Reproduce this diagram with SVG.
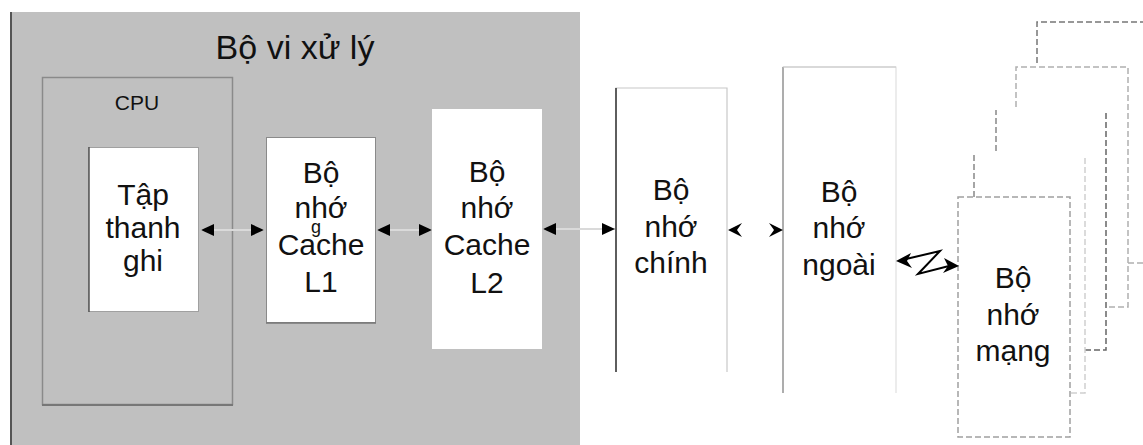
<svg xmlns="http://www.w3.org/2000/svg" width="1143" height="445" viewBox="0 0 1143 445">
  <style>
    .t { font-family: "Liberation Sans", Arial, sans-serif; fill: #111; text-anchor: middle; }
    .body { font-size: 30px; }
    .title { font-size: 34px; }
    .small { font-size: 21px; }
    .dash { fill: none; stroke-dasharray: 6 3; stroke-width: 1.5; }
    .link { stroke: #dadada; stroke-width: 2; fill: none; }
    .head { fill: #000; }
  </style>
  <defs>
    <marker id="tri" viewBox="0 0 13 12" refX="13" refY="6" markerWidth="13" markerHeight="12" markerUnits="userSpaceOnUse" orient="auto-start-reverse">
      <path d="M0,0 L13,6 L0,12 z" fill="#000"/>
    </marker>
  </defs>

  <rect width="1143" height="445" fill="#fff"/>

  <!-- processor area -->
  <g id="processor">
    <rect x="10" y="12" width="570" height="440" fill="#c0c0c0"/>
    <line x1="11" y1="12" x2="11" y2="445" stroke="#555" stroke-width="2"/>
    <text class="t title" x="295" y="59">Bộ vi xử lý</text>
  </g>

  <g id="cpu">
    <rect x="42.5" y="77.5" width="190" height="327" fill="none" stroke="#8a8a8a" stroke-width="1.5"/>
    <line x1="42" y1="405" x2="233" y2="405" stroke="#777" stroke-width="2"/>
    <text class="t small" x="137" y="110">CPU</text>
  </g>

  <g id="registers">
    <rect x="88.5" y="147.5" width="110" height="164" fill="#fff" stroke="#a0a0a0" stroke-width="1"/>
    <line x1="89" y1="147" x2="89" y2="312" stroke="#555" stroke-width="1.5"/>
    <text class="t body" x="143" y="205">Tập</text>
    <text class="t body" x="143" y="238">thanh</text>
    <text class="t body" x="143" y="271">ghi</text>
  </g>

  <g id="cache-l1">
    <rect x="266.5" y="137.5" width="109" height="185" fill="#fff" stroke="#8a8a8a" stroke-width="1"/>
    <line x1="266" y1="323" x2="376" y2="323" stroke="#777" stroke-width="1.5"/>
    <text class="t body" x="321" y="183">Bộ</text>
    <text class="t body" x="321" y="218">nhớ</text>
    <text class="t" x="316" y="233" font-size="18">g</text>
    <text class="t body" x="321" y="255">Cache</text>
    <text class="t body" x="321" y="292">L1</text>
  </g>

  <g id="cache-l2">
    <rect x="432" y="109" width="110" height="240" fill="#fff"/>
    <text class="t body" x="487" y="182">Bộ</text>
    <text class="t body" x="487" y="218">nhớ</text>
    <text class="t body" x="487" y="255">Cache</text>
    <text class="t body" x="487" y="293">L2</text>
  </g>

  <g id="main-memory">
    <path d="M616,372 V88 H727 V372" fill="none" stroke="#c8c8c8" stroke-width="1.2"/>
    <line x1="616" y1="88" x2="616" y2="372" stroke="#333" stroke-width="1.5"/>
    <text class="t body" x="671" y="200">Bộ</text>
    <text class="t body" x="671" y="237">nhớ</text>
    <text class="t body" x="671" y="273">chính</text>
  </g>

  <g id="external-memory">
    <path d="M783,393 V67 H896 V393" fill="none" stroke="#e0e0e0" stroke-width="1.2"/>
    <line x1="783" y1="67" x2="783" y2="393" stroke="#999" stroke-width="1.5"/>
    <line x1="783" y1="67" x2="896" y2="67" stroke="#c4c4c4" stroke-width="1.2"/>
    <text class="t body" x="839" y="202">Bộ</text>
    <text class="t body" x="839" y="238">nhớ</text>
    <text class="t body" x="839" y="275">ngoài</text>
  </g>

  <!-- stacked network memory pages -->
  <g id="network-memory">
    <path class="dash" d="M1037,63 V22 H1143" stroke="#777"/>
    <path class="dash" d="M1016,107 V67 H1128 V307 H1106" stroke="#b0b0b0"/>
    <path class="dash" d="M1128,263 H1143" stroke="#b0b0b0"/>
    <path class="dash" d="M996,151 V110" stroke="#888"/>
    <path class="dash" d="M1106,113 V350 H1085" stroke="#666" stroke-dasharray="4 2 1 2"/>
    <path class="dash" d="M974,197 V153" stroke="#888"/>
    <path class="dash" d="M1085,158 V393 H1070" stroke="#d0d0d0"/>
    <rect class="dash" x="958" y="197" width="112" height="240" stroke="#a0a0a0" fill="#fff"/>
    <text class="t body" x="1013" y="288">Bộ</text>
    <text class="t body" x="1013" y="325">nhớ</text>
    <text class="t body" x="1013" y="361">mạng</text>
  </g>

  <g id="connectors">
    <line class="link" x1="201" y1="230" x2="264" y2="230" marker-start="url(#tri)" marker-end="url(#tri)"/>
    <line class="link" x1="377" y1="230" x2="432" y2="230" marker-start="url(#tri)" marker-end="url(#tri)"/>
    <line class="link" x1="543" y1="229" x2="615" y2="229" marker-start="url(#tri)" marker-end="url(#tri)"/>
    <!-- main to external: notched heads, no visible shaft -->
    <path class="head" d="M728,230 L742,223 L737,230 L742,237 z"/>
    <path class="head" d="M783,230 L769,223 L774,230 L769,237 z"/>
    <!-- lightning link to network memory -->
    <path d="M906,259 L940,251 L918,274 L949,266" fill="none" stroke="#000" stroke-width="2" stroke-linejoin="miter"/>
    <path class="head" d="M896,261 L911,253 L907,261 L912,268 z"/>
    <path class="head" d="M959,266 L944,258 L948,266 L943,273 z"/>
  </g>
</svg>
